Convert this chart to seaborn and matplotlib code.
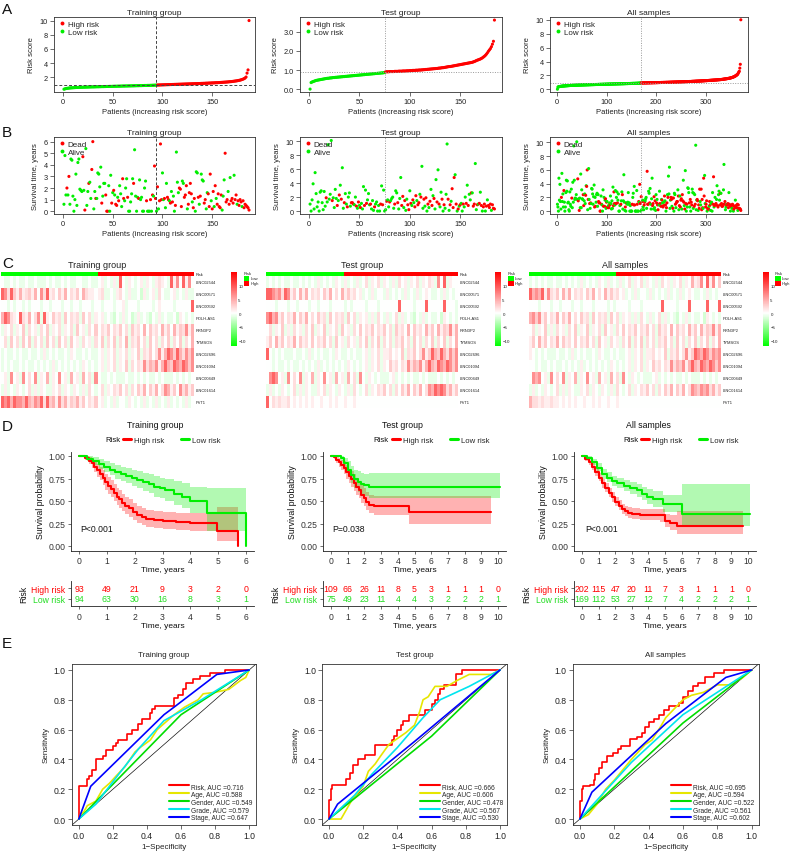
import numpy as np
import pandas as pd
import matplotlib
matplotlib.use("Agg")
import matplotlib.pyplot as plt
import seaborn as sns
from matplotlib.colors import LinearSegmentedColormap, ListedColormap
from matplotlib.lines import Line2D
from matplotlib.patches import Rectangle

# ======================= DATA =======================
# Panel A: risk scores (x100), sorted ascending
TRAIN_RISK_LOW = """33 38 42 45 47 49 51 52 53 54 55 56 57 58 58 59 60 60 61 61
62 62 63 63 64 64 65 65 66 66 66 67 67 68 68 68 69 69 70 70 70 71 71 72 72 72 73 73 73 74
74 75 75 75 76 76 76 77 77 78 78 78 79 79 79 80 80 80 81 81 81 82 82 83 83 83 84 84 84 85
85 86 86 86 87 87 87 88 88 89 89 90 90 91"""
TRAIN_RISK_HIGH = """92 93 93 94 94 95 95 96 96 97 97 98 98 99 99 100 100 101 101 102
102 103 103 104 104 105 105 106 106 107 107 108 108 109 109 110 110 111 111 112
112 113 113 114 115 115 116 116 117 118 118 119 120 120 121 122 122 123 124 125
125 126 127 128 129 130 131 132 133 134 135 136 138 139 140 142 144 146 148 150
152 155 158 161 165 170 175 182 190 205 260 305 1000"""
TEST_RISK_LOW = """2 36 39 41 43 45 47 48 49 50 51 52 53 54 55 56 57 58 58 59
60 60 61 62 62 63 63 64 64 65 65 66 66 67 67 68 68 69 69 70
70 71 71 72 72 73 73 74 74 75 75 76 76 77 77 78 78 79 79 80
80 81 81 82 82 83 83 84 84 85 85 86 86 87 88"""
TEST_RISK_HIGH = """92 92 92 92 93 93 93 93 93 94 94 94 94 95 95 95 95 96 96 96
96 97 97 97 98 98 98 99 99 99 100 100 100 101 101 101 102 102 103 103
104 104 105 105 106 106 107 107 108 108 109 109 110 111 111 112 113 113 114 115
116 117 118 119 119 120 121 122 123 124 125 126 127 128 129 130 131 132 133 134
135 136 137 138 139 140 141 143 145 147 150 152 154 156 158 161 164 168 172 177
183 190 198 205 212 222 235 250 360"""
RISK_CUTOFF = 0.915

# Panel B: survival time (years) and status (D = dead, A = alive), same order as risk
TRAIN_TIME_LOW = """0.6 4.8 1.4 2.0 1.4 3.0 0.6 4.5 4.4 1.3 0.0 1.0 3.2 0.5 4.2 4.5 1.9 1.8 1.7 4.7
1.8 0.1 5.4 0.5 1.7 2.4 2.5 1.1 3.6 6.0 0.2 1.7 1.1 1.1 3.3 3.2 2.1 3.8 0.7 1.3
2.4 2.4 1.4 0.0 0.0 2.2 0.0 3.1 0.7 1.6 1.8 1.4 0.6 0.5 1.2 0.9 2.2 1.5 0.4 2.8
1.1 0.9 2.0 2.8 1.2 0.0 0.0 0.8 1.5 2.8 2.4 5.3 1.3 0.0 1.2 1.1 2.7 1.0 1.2 0.0
0.0 2.0 2.6 0.9 0.0 0.0 0.0 1.0 0.0 1.4 1.3 3.9 1.1 0.0"""
TRAIN_STAT_LOW = "AAADADAAAA AAAAAAAAAD ADAAADAADD AADAAAAADA AADDDAAADA DADDADAAAD DAAADAAAAA DAAAADAAAA AAADAAADAD ADDA"
TRAIN_TIME_HIGH = """2.1 0.2 0.9 5.8 1.0 3.3 1.0 1.1 0.3 2.4 1.2 1.0 0.9 0.7 1.7 0.8 1.3 0.0 0.5 5.1
2.5 1.6 2.0 1.9 0.4 2.6 2.4 1.2 1.4 2.2 0.2 0.6 1.6 2.4 1.5 0.8 0.3 1.1 0.0 3.4
3.3 1.2 0.6 1.3 3.2 2.7 2.6 0.7 1.0 0.2 1.6 1.5 0.4 3.2 0.9 0.2 1.7 0.4 2.2 1.1
0.6 1.5 0.4 0.3 1.4 0.1 1.3 2.7 5.0 0.8 1.0 1.7 0.6 2.9 0.9 1.1 0.7 3.1 1.0 1.4
0.6 0.9 0.5 1.0 0.8 0.4 0.9 0.3 0.6 0.5 0.4 0.3 0.1"""
TRAIN_STAT_HIGH = "DADDDAADAA DDADADAADA AADDDAADDD ADDDDADDAA ADADAAADDA ADDDADDADA DDDDDAAADD DADADDDADD ADDDDADDDD DDD"
TEST_TIME_LOW = """1.0 0.0 1.6 3.9 0.3 5.5 2.5 0.6 1.3 0.0 2.7 2.9 1.2 0.2 2.8 0.7 1.9 1.3 9.5 1.7
2.4 10.1 1.5 1.9 0.5 3.1 1.8 0.8 1.5 2.3 3.7 1.7 6.2 0.4 1.2 2.5 1.0 0.6 2.0 2.6
0.7 1.2 1.2 1.0 0.9 2.0 0.7 0.4 1.3 0.8 0.5 1.1 0.3 3.5 0.8 3.0 1.1 1.6 2.5 0.9
1.0 0.3 1.5 0.1 0.6 1.0 1.3 0.0 0.8 0.0 1.0 3.6 0.9 3.0 0.0"""
TEST_STAT_LOW = "AAAAAAAAAA AAAAAADAAA AADAAAADAD ADAADAADAA ADDDAADADA DAAADADAAA DAAADAAAAA DADAA"
TEST_TIME_HIGH = """0.2 1.4 1.6 0.6 1.3 1.5 1.8 2.0 0.4 1.0 2.9 2.6 1.2 0.3 1.8 4.8 0.8 2.1 0.5 1.5
0.1 1.7 0.9 0.2 2.9 1.1 0.8 1.6 1.2 0.6 2.2 1.5 0.9 1.2 2.4 2.0 6.4 0.4 1.7 0.7
1.9 0.0 1.0 0.5 1.4 3.1 0.8 2.2 1.8 0.3 4.5 1.3 5.9 1.0 0.6 2.7 1.7 0.0 0.9 0.4
2.4 9.6 1.7 0.1 0.9 1.4 3.2 0.5 4.8 5.2 1.0 0.0 0.3 0.7 0.9 1.1 0.0 1.0 0.6 2.0
1.1 3.7 0.8 2.4 1.6 2.6 2.6 0.7 1.0 6.8 0.2 0.9 1.0 1.1 2.7 0.8 0.0 0.6 1.0 0.0
0.7 1.6 0.8 0.5 1.0 0.1 0.9 0.4 0.3"""
TEST_STAT_HIGH = "ADAADAAAAD AADAAADDAD AADDADADAD DADDADAADA DADADADADA ADADAADADA AADADADDDA DADADAADAA DADAADADDA ADADADADDA DADDDADDD"

# Panel C: expression heatmaps (coarse columns, low-risk patients on the left)
GENES = ["LINC02544", "LINC00571", "LINC00592", "POLH-AS1", "RRN3P2", "TYMSOS",
         "LINC02696", "LINC01094", "LINC00449", "LINC01614", "PVT1"]
LEVELS = {'0': -3, '1': -2, '2': -1, '3': 0, '4': 1, '5': 2, '6': 3, '7': 4.5, '8': 6.5, '9': 9}
HEAT_TRAIN = [
    "32232322 32232223 23223232 23322322 34232429 32432342 43245432 94839483",
    "98596474 56473859 45364735 46375443 45223245 32422314 23425322 34232422",
    "33232332 32333233 23332332 33233323 32333233 42333233 33234333 32333339",
    "79854395 47358294 36452635 45263524 34232132 42312423 21324232 23143232",
    "24352436 25342536 24352435 26342536 35463546 35264537 36453746 37465847",
    "35263526 36253526 35263526 34253425 36253625 37254635 26352536 25362537",
    "23223232 23223242 32322324 32232322 34243524 35243625 46358479 86975868",
    "23232232 32232323 24232323 23243232 34243524 36253548 57684797 69879868",
    "34283428 35382437 24383427 34273528 32232322 23223232 32232322 23232323",
    "24232432 35242432 24352432 43242532 35243546 35253647 36473587 46385746",
    "98979887 97687959 67485746 57463546 34232423 32432324 23242324 23232423",
]
HEAT_TEST = [
    "23232322 32232323 24232324 32423242 35243524 32425342 43524354 28392433",
    "99878598 46374735 45364735 37464534 23242332 42323242 32423432 23242323",
    "33323332 33233323 32333233 33232333 32333233 33339333 32333933 33393332",
    "89784635 47364735 36452635 45263524 34242532 42352423 21324232 23143232",
    "35243624 25342536 24362435 26342536 35463546 35264537 36453746 37465847",
    "46374635 47364536 35463526 34253425 36253625 35254635 26352536 25362537",
    "93232322 23223242 32322324 32232322 34243524 45343625 46358469 76975868",
    "33232232 32232323 24232323 23243232 34243524 36453548 57684797 69879868",
    "38983428 35382437 24383427 34273528 32432322 23423232 32232322 23232323",
    "24232432 35242432 24352432 43242532 35243546 35253647 36473587 98985746",
    "93545445 34343434 33433434 33433433 33333333 33333333 33333333 33333333",
]
HEAT_ALL = [
    "23232322 32232323 24232324 32423242 35243524 32425342 43524374 58394836",
    "97879485 46374735 45364735 37464534 23242332 42323242 32423432 23242323",
    "33323332 33233323 32333233 33232333 32333233 33339333 32333933 33393339",
    "78684635 47364735 36452635 45263524 34242532 42352423 21324232 23143232",
    "35243624 25342536 24362435 26342536 35463546 35264537 36453746 37465847",
    "46374635 47364536 35463526 34253425 36253625 35254635 26352536 25362537",
    "43232322 23223242 32322324 32232322 34243524 45343625 46358469 87986878",
    "33232232 32232323 24232323 23243232 34243524 36453548 57684797 69879868",
    "38783428 35382437 24383427 34273528 32432322 23423232 32232322 23232323",
    "24232432 35242432 24352432 43242532 35243546 35253647 36473587 68785746",
    "75545445 44343434 33433434 33433433 33333333 33333333 33333333 33333333",
]

# Panel D: Kaplan-Meier estimates (time, survival, lower CI, upper CI)
KM_TR_HI_T = [0, 0.2, 0.35, 0.45, 0.55, 0.65, 0.75, 0.85, 0.95, 1.05, 1.15, 1.25, 1.35, 1.45, 1.55, 1.65, 1.8, 1.95, 2.1, 2.25, 2.4, 2.7, 3.0, 3.2, 3.5, 4.0, 4.95, 5.7]
KM_TR_HI_S = [1.0, 0.98, 0.95, 0.92, 0.88, 0.84, 0.80, 0.76, 0.71, 0.67, 0.63, 0.59, 0.55, 0.52, 0.48, 0.45, 0.42, 0.38, 0.35, 0.32, 0.30, 0.29, 0.28, 0.28, 0.27, 0.26, 0.17, 0.0]
KM_TR_HI_L = [1.0, 0.96, 0.91, 0.87, 0.82, 0.77, 0.73, 0.68, 0.62, 0.58, 0.54, 0.50, 0.46, 0.42, 0.39, 0.36, 0.32, 0.29, 0.26, 0.23, 0.21, 0.20, 0.19, 0.19, 0.18, 0.17, 0.06, 0.0]
KM_TR_HI_U = [1.0, 1.0, 0.99, 0.97, 0.94, 0.91, 0.88, 0.85, 0.80, 0.77, 0.73, 0.69, 0.65, 0.62, 0.58, 0.55, 0.52, 0.48, 0.45, 0.42, 0.40, 0.39, 0.38, 0.38, 0.37, 0.37, 0.43, 0.43]
KM_TR_LO_T = [0, 0.3, 0.5, 0.7, 0.9, 1.1, 1.3, 1.5, 1.7, 1.9, 2.1, 2.3, 2.5, 2.7, 2.9, 3.1, 3.4, 3.7, 4.0, 4.6, 6.0]
KM_TR_LO_S = [1.0, 0.97, 0.94, 0.91, 0.88, 0.85, 0.82, 0.80, 0.78, 0.76, 0.73, 0.71, 0.69, 0.66, 0.64, 0.62, 0.58, 0.55, 0.50, 0.37, 0.0]
KM_TR_LO_L = [1.0, 0.94, 0.90, 0.86, 0.82, 0.79, 0.75, 0.72, 0.70, 0.67, 0.64, 0.61, 0.59, 0.55, 0.53, 0.50, 0.46, 0.42, 0.37, 0.17, 0.0]
KM_TR_LO_U = [1.0, 1.0, 0.99, 0.97, 0.95, 0.92, 0.90, 0.88, 0.87, 0.85, 0.83, 0.81, 0.80, 0.78, 0.76, 0.75, 0.72, 0.70, 0.66, 0.65, 0.65]

KM_TE_HI_T = [0, 0.15, 0.3, 0.45, 0.6, 0.75, 0.9, 1.05, 1.2, 1.35, 1.5, 1.65, 1.8, 1.95, 2.1, 2.3, 2.6, 4.7, 9.6]
KM_TE_HI_S = [1.0, 0.99, 0.96, 0.93, 0.90, 0.87, 0.82, 0.78, 0.74, 0.70, 0.66, 0.62, 0.57, 0.53, 0.49, 0.46, 0.44, 0.38, 0.38]
KM_TE_HI_L = [1.0, 0.97, 0.92, 0.88, 0.84, 0.80, 0.75, 0.70, 0.66, 0.61, 0.57, 0.53, 0.48, 0.44, 0.40, 0.37, 0.35, 0.25, 0.25]
KM_TE_HI_U = [1.0, 1.0, 1.0, 0.98, 0.96, 0.94, 0.90, 0.86, 0.83, 0.80, 0.76, 0.72, 0.68, 0.64, 0.60, 0.57, 0.56, 0.56, 0.56]
KM_TE_LO_T = [0, 0.3, 0.6, 0.8, 1.0, 1.2, 1.4, 1.6, 1.8, 2.0, 2.3, 10.1]
KM_TE_LO_S = [1.0, 1.0, 0.98, 0.92, 0.85, 0.79, 0.74, 0.71, 0.69, 0.68, 0.66, 0.66]
KM_TE_LO_L = [1.0, 1.0, 0.95, 0.86, 0.77, 0.70, 0.64, 0.60, 0.58, 0.56, 0.53, 0.53]
KM_TE_LO_U = [1.0, 1.0, 1.0, 0.98, 0.94, 0.89, 0.85, 0.83, 0.81, 0.80, 0.81, 0.81]

KM_AL_HI_T = [0, 0.2, 0.4, 0.6, 0.8, 1.0, 1.2, 1.4, 1.6, 1.8, 2.0, 2.2, 2.4, 2.6, 2.8, 3.0, 3.5, 4.0, 4.7, 5.0, 5.3, 5.7, 9.7]
KM_AL_HI_S = [1.0, 0.97, 0.93, 0.88, 0.82, 0.76, 0.70, 0.65, 0.59, 0.54, 0.49, 0.45, 0.41, 0.39, 0.37, 0.36, 0.35, 0.35, 0.34, 0.28, 0.26, 0.22, 0.22]
KM_AL_HI_L = [1.0, 0.95, 0.90, 0.84, 0.78, 0.72, 0.65, 0.60, 0.54, 0.49, 0.44, 0.40, 0.36, 0.33, 0.31, 0.30, 0.29, 0.29, 0.27, 0.21, 0.18, 0.13, 0.13]
KM_AL_HI_U = [1.0, 0.99, 0.96, 0.92, 0.87, 0.81, 0.75, 0.70, 0.65, 0.60, 0.55, 0.51, 0.47, 0.45, 0.43, 0.42, 0.41, 0.41, 0.41, 0.36, 0.35, 0.39, 0.39]
KM_AL_LO_T = [0, 0.3, 0.6, 0.9, 1.2, 1.5, 1.8, 2.1, 2.5, 2.9, 3.3, 3.6, 3.9, 4.3, 4.9, 6.0, 10.1]
KM_AL_LO_S = [1.0, 0.98, 0.93, 0.87, 0.80, 0.76, 0.72, 0.70, 0.67, 0.65, 0.62, 0.58, 0.55, 0.52, 0.47, 0.36, 0.36]
KM_AL_LO_L = [1.0, 0.96, 0.90, 0.83, 0.75, 0.71, 0.67, 0.64, 0.61, 0.58, 0.55, 0.51, 0.47, 0.43, 0.38, 0.22, 0.22]
KM_AL_LO_U = [1.0, 1.0, 0.97, 0.92, 0.86, 0.82, 0.78, 0.76, 0.73, 0.71, 0.69, 0.66, 0.63, 0.61, 0.57, 0.69, 0.69]

# Number at risk
NR_TR_HI = [93, 49, 21, 9, 3, 2, 0]
NR_TR_LO = [94, 63, 30, 16, 8, 3, 1]
NR_TE_HI = [109, 66, 26, 11, 8, 5, 3, 1, 1, 1, 0]
NR_TE_LO = [75, 49, 23, 11, 4, 4, 3, 2, 2, 2, 1]
NR_AL_HI = [202, 115, 47, 20, 11, 7, 3, 1, 1, 1, 0]
NR_AL_LO = [169, 112, 53, 27, 12, 7, 4, 2, 2, 2, 1]
P_VALUES = ["P<0.001", "P=0.038", "P<0.001"]

# Panel E: ROC curves as "fpr,tpr" points
ROC_TR_RISK = "0,0 0,.22 .05,.27 .06,.29 .08,.33 .10,.40 .14,.42 .16,.46 .20,.49 .22,.51 .23,.53 .28,.57 .31,.60 .35,.64 .37,.67 .42,.71 .43,.74 .45,.76 .56,.81 .58,.83 .61,.87 .63,.91 .67,.94 .71,.96 .77,.98 .86,1 1,1"
ROC_TR_AGE = "0,0 .01,.03 .03,.05 .05,.09 .10,.12 .14,.20 .18,.24 .22,.29 .27,.35 .30,.40 .33,.45 .36,.48 .42,.53 .46,.60 .50,.64 .56,.70 .62,.75 .70,.80 .73,.84 .80,.85 .88,.87 .95,.93 .98,.95 1,1"
ROC_TR_GENDER = "0,0 .60,.70 1,1"
ROC_TR_GRADE = "0,0 .10,.10 .22,.28 .35,.47 .50,.66 .72,.80 1,1"
ROC_TR_STAGE = "0,0 .07,.22 .50,.70 .57,.76 .81,.97 1,1"
ROC_TE_RISK = "0,0 0,.13 .01,.20 .02,.23 .10,.27 .12,.31 .14,.36 .17,.40 .21,.43 .27,.50 .37,.53 .38,.56 .40,.60 .42,.63 .43,.66 .47,.70 .56,.73 .60,.77 .62,.80 .64,.84 .65,.87 .67,.90 .74,.97 .78,1 1,1"
ROC_TE_AGE = "0,0 .07,0 .10,.06 .13,.12 .20,.22 .23,.32 .27,.37 .30,.42 .35,.50 .40,.54 .45,.58 .50,.63 .53,.72 .55,.80 .58,.82 .62,.89 .69,.89 .75,.93 .82,.97 .95,.97 1,1"
ROC_TE_GENDER = "0,0 .60,.556 1,1"
ROC_TE_GRADE = "0,0 .15,.16 .25,.30 .40,.48 .55,.68 .65,.80 .82,.89 1,1"
ROC_TE_STAGE = "0,0 .05,.10 .50,.52 1,1"
ROC_AL_RISK = "0,0 0,.12 .01,.20 .02,.22 .06,.23 .08,.26 .09,.30 .11,.34 .13,.38 .16,.42 .19,.44 .22,.47 .24,.49 .29,.54 .33,.55 .36,.58 .38,.62 .40,.65 .43,.67 .46,.70 .49,.73 .52,.76 .58,.78 .60,.82 .63,.86 .66,.89 .69,.91 .73,.95 .78,.98 .84,1 1,1"
ROC_AL_AGE = "0,0 .05,.03 .10,.10 .15,.20 .20,.26 .25,.33 .30,.40 .38,.50 .42,.53 .47,.62 .50,.68 .55,.74 .60,.80 .65,.83 .72,.85 .80,.90 .88,.90 .95,.95 1,1"
ROC_AL_GENDER = "0,0 .60,.644 1,1"
ROC_AL_GRADE = "0,0 .30,.38 .60,.70 1,1"
ROC_AL_STAGE = "0,0 .07,.18 .50,.64 .85,.95 1,1"
AUC_TR = [0.716, 0.588, 0.549, 0.579, 0.647]
AUC_TE = [0.666, 0.606, 0.478, 0.567, 0.530]
AUC_AL = [0.695, 0.594, 0.522, 0.561, 0.602]
ROC_VARS = ["Risk", "Age", "Gender", "Grade", "Stage"]

# ======================= STYLE =======================
sns.set_theme(style="ticks")
plt.rcParams['font.family'] = ['Liberation Sans', 'DejaVu Sans']
RED = '#FF0000'
GREEN = '#00EE00'
ROC_COLORS = ['#FF0000', '#E6E600', '#00DD00', '#00E5EE', '#0000FF']
TXT = '#222222'

W, H = 793, 854
fig = plt.figure(figsize=(W / 100, H / 100), dpi=100)


def px_ax(l, t, r, b):
    return fig.add_axes([l / W, 1 - b / H, (r - l) / W, (b - t) / H])


def ftext(x, y, s, **kw):
    return fig.text(x / W, 1 - y / H, s, **kw)


def nums(s):
    return np.array([float(v) for v in s.split()])


def flags(s):
    return np.array([c == 'D' for c in s.replace(' ', '')])


def pts(s):
    xy = np.array([[float(v) for v in p.split(',')] for p in s.split()])
    return xy[:, 0], xy[:, 1]


def make_group(rl, rh, tl, th, sl, sh):
    rl, rh = nums(rl) / 100, nums(rh) / 100
    df = pd.DataFrame({
        'risk': np.r_[rl, rh],
        'group': ['Low risk'] * len(rl) + ['High risk'] * len(rh),
        'time': np.r_[nums(tl), nums(th)],
        'dead': np.r_[flags(sl), flags(sh)],
    })
    return df


train = make_group(TRAIN_RISK_LOW, TRAIN_RISK_HIGH, TRAIN_TIME_LOW, TRAIN_TIME_HIGH, TRAIN_STAT_LOW, TRAIN_STAT_HIGH)
test = make_group(TEST_RISK_LOW, TEST_RISK_HIGH, TEST_TIME_LOW, TEST_TIME_HIGH, TEST_STAT_LOW, TEST_STAT_HIGH)
allset = pd.concat([train, test]).sort_values('risk', kind='mergesort').reset_index(drop=True)
for d in (train, test, allset):
    d['idx'] = np.arange(1, len(d) + 1)
    d['status'] = np.where(d['dead'], 'Dead', 'Alive')


def rstyle(ax, fs=5.3):
    for sp in ax.spines.values():
        sp.set_visible(True)
        sp.set_color('#333333')
        sp.set_linewidth(0.6)
    ax.tick_params(direction='out', length=3, width=0.5, colors='#333333',
                   labelcolor=TXT, labelsize=fs, pad=1.5)


# ======================= PANELS A & B =======================
AB_X = [(54, 255), (300, 502), (550, 748)]
AB_XLIM = [(-9, 193), (-9, 191.5), (-14, 385.5)]
AB_XT = [[0, 50, 100, 150], [0, 50, 100, 150], [0, 100, 200, 300]]
A_YLIM = [(-0.06, 10.5), (-0.13, 3.76), (-0.38, 10.4)]
A_YT = [[2, 4, 6, 8, 10], [0, 1, 2, 3], [0, 2, 4, 6, 8, 10]]
A_YL = [None, ['0.0', '1.0', '2.0', '3.0'], None]
B_YLIM = [(-0.24, 6.4), (-0.42, 10.6), (-0.42, 10.8)]
B_YT = [list(range(7)), [0, 2, 4, 6, 8, 10], [0, 2, 4, 6, 8, 10]]
TITLES = ["Training group", "Test group", "All samples"]
LINESTY = [((0, (3, 2)), '#444444'), ((0, (1, 1.5)), '#999999'), ((0, (1, 1.5)), '#999999')]

for i, d in enumerate([train, test, allset]):
    l, r = AB_X[i]
    n_low = int((d['group'] == 'Low risk').sum())
    ls, lc = LINESTY[i]
    # ---- A
    ax = px_ax(l, 18, r, 93)
    sns.scatterplot(data=d, x='idx', y='risk', hue='group',
                    palette={'High risk': RED, 'Low risk': GREEN},
                    s=5, linewidth=0, ax=ax, legend=False)
    ax.axvline(n_low, ls=ls, color=lc, lw=0.7)
    ax.axhline(RISK_CUTOFF, ls=ls, color=lc, lw=0.7)
    ax.set_xlim(*AB_XLIM[i]); ax.set_ylim(*A_YLIM[i])
    ax.set_xticks(AB_XT[i]); ax.set_yticks(A_YT[i])
    if A_YL[i]:
        ax.set_yticklabels(A_YL[i])
    ax.set_xlabel('Patients (increasing risk score)', fontsize=5.5, color=TXT, labelpad=2)
    ax.set_ylabel('Risk score', fontsize=5.5, color=TXT, labelpad=3)
    rstyle(ax)
    ax.legend(handles=[Line2D([], [], ls='', marker='o', ms=2.8, color=RED, mec='none'),
                       Line2D([], [], ls='', marker='o', ms=2.8, color=GREEN, mec='none')],
              labels=['High risk', 'Low risk'], loc='upper left', frameon=False,
              fontsize=5.8, handletextpad=0.1, labelspacing=0.1, borderpad=0.3,
              handlelength=1.2, borderaxespad=0.1)
    ftext((l + r) / 2, 13.5, TITLES[i], ha='center', va='center', fontsize=6, color=TXT)
    # ---- B
    ax = px_ax(l, 138, r, 215)
    sns.scatterplot(data=d, x='idx', y='time', hue='status',
                    palette={'Dead': RED, 'Alive': GREEN},
                    s=5, linewidth=0, ax=ax, legend=False)
    ax.axvline(n_low, ls=ls, color=lc, lw=0.7)
    ax.set_xlim(*AB_XLIM[i]); ax.set_ylim(*B_YLIM[i])
    ax.set_xticks(AB_XT[i]); ax.set_yticks(B_YT[i])
    ax.set_xlabel('Patients (increasing risk score)', fontsize=5.5, color=TXT, labelpad=2)
    ax.set_ylabel('Survival time, years', fontsize=5.5, color=TXT, labelpad=3)
    rstyle(ax)
    ax.legend(handles=[Line2D([], [], ls='', marker='o', ms=2.8, color=RED, mec='none'),
                       Line2D([], [], ls='', marker='o', ms=2.8, color=GREEN, mec='none')],
              labels=['Dead', 'Alive'], loc='upper left', frameon=False,
              fontsize=5.8, handletextpad=0.1, labelspacing=0.1, borderpad=0.3,
              handlelength=1.2, borderaxespad=0.1)
    ftext((l + r) / 2, 134, TITLES[i], ha='center', va='center', fontsize=6, color=TXT)

# ======================= PANEL C =======================
HM_CMAP = LinearSegmentedColormap.from_list('gwr', [(0, '#00FF00'), (12 / 27, '#FFFFFF'), (1, '#FF0000')])
HM_X = [(1, 194), (266, 458), (529, 721)]
CB_X = [231, 495, 763]
LEG_X = [244, 508, 775]
for i, (rows, d) in enumerate(zip([HEAT_TRAIN, HEAT_TEST, HEAT_ALL], [train, test, allset])):
    l, r = HM_X[i]
    mat = np.array([[LEVELS[c] for c in row.replace(' ', '')] for row in rows], dtype=float)
    axh = px_ax(l, 277, r, 409)
    cax = px_ax(CB_X[i], 273, CB_X[i] + 6, 347)
    sns.heatmap(mat, cmap=HM_CMAP, vmin=-12, vmax=15, ax=axh, cbar_ax=cax,
                xticklabels=False, yticklabels=GENES,
                cbar_kws={'ticks': [-10, -5, 0, 5, 10]})
    axh.yaxis.tick_right()
    axh.tick_params(axis='y', length=0, labelsize=2.9, pad=1.5, labelrotation=0, labelcolor=TXT)
    cb = axh.collections[0].colorbar
    cb.outline.set_visible(False)
    cax.tick_params(length=0, labelsize=3.2, pad=1, labelcolor=TXT)
    # risk annotation bar
    axr = px_ax(l, 272.7, r, 277)
    grp = (d['group'] == 'High risk').astype(int).to_numpy()[None, :]
    sns.heatmap(grp, cmap=ListedColormap(['#00FF00', '#FF0000']), vmin=0, vmax=1, cbar=False,
                ax=axr, xticklabels=False, yticklabels=['Risk'])
    axr.yaxis.tick_right()
    axr.tick_params(axis='y', length=0, labelsize=2.9, pad=1.5, labelrotation=0, labelcolor=TXT)
    ftext((l + r) / 2, 266, TITLES[i], ha='center', va='center', fontsize=6.5, color=TXT)
    # risk legend
    lx = LEG_X[i]
    ftext(lx, 274.5, 'Risk', ha='left', va='center', fontsize=3.0, color=TXT)
    for k, (lab, col) in enumerate([('Low', '#00FF00'), ('High', '#FF0000')]):
        y0 = 276.5 + k * 5.5
        fig.add_artist(Rectangle((lx / W, 1 - (y0 + 5) / H), 5.5 / W, 5 / H,
                                 transform=fig.transFigure, color=col, lw=0))
        ftext(lx + 6.5, y0 + 2.5, lab, ha='left', va='center', fontsize=3.0, color=TXT)

# ======================= PANEL D =======================
KM = [
    dict(x=(70.7, 254.3), tmax=6, pval_x=0.04, title_x=155, risk_x=120, leg_x=123,
         curves=[(KM_TR_HI_T, KM_TR_HI_S, KM_TR_HI_L, KM_TR_HI_U, RED),
                 (KM_TR_LO_T, KM_TR_LO_S, KM_TR_LO_L, KM_TR_LO_U, GREEN)],
         nr=(NR_TR_HI, NR_TR_LO)),
    dict(x=(322.7, 506.3), tmax=10, pval_x=0.06, title_x=402, risk_x=389, leg_x=392,
         curves=[(KM_TE_HI_T, KM_TE_HI_S, KM_TE_HI_L, KM_TE_HI_U, RED),
                 (KM_TE_LO_T, KM_TE_LO_S, KM_TE_LO_L, KM_TE_LO_U, GREEN)],
         nr=(NR_TE_HI, NR_TE_LO)),
    dict(x=(573.7, 756.3), tmax=10, pval_x=0.18, title_x=648, risk_x=638, leg_x=641,
         curves=[(KM_AL_HI_T, KM_AL_HI_S, KM_AL_HI_L, KM_AL_HI_U, RED),
                 (KM_AL_LO_T, KM_AL_LO_S, KM_AL_LO_L, KM_AL_LO_U, GREEN)],
         nr=(NR_AL_HI, NR_AL_LO)),
]


def gg_style(ax, fs=6.2):
    for k in ('top', 'right'):
        ax.spines[k].set_visible(False)
    for k in ('left', 'bottom'):
        ax.spines[k].set_color('#222222')
        ax.spines[k].set_linewidth(0.6)
    ax.tick_params(direction='out', length=2.5, width=0.5, colors='#333333',
                   labelcolor='#333333', labelsize=fs, pad=1.5)


for i, spec in enumerate(KM):
    l, r = spec['x']
    tmax = spec['tmax']
    xl = (-0.05 * tmax, 1.05 * tmax)
    ax = px_ax(l, 452.5, r, 551.5)
    for (t, s, lo, hi, col) in spec['curves']:
        ax.fill_between(t, lo, hi, step='post', color=col, alpha=0.3, lw=0)
        sns.lineplot(x=t, y=s, drawstyle='steps-post', color=col, lw=1.5, ax=ax,
                     estimator=None, sort=False)
    ax.set_xlim(*xl); ax.set_ylim(-0.05, 1.05)
    ax.set_xticks(range(0, tmax + 1))
    ax.set_yticks([0, 0.25, 0.5, 0.75, 1.0])
    ax.set_yticklabels(['0.00', '0.25', '0.50', '0.75', '1.00'])
    ax.set_xlabel('Time, years', fontsize=6, color='#111111', labelpad=1)
    ax.set_ylabel('Survival probability', fontsize=6.3, color='#111111', labelpad=2)
    gg_style(ax)
    ax.text(spec['pval_x'], 0.2, P_VALUES[i], ha='left', va='center', fontsize=6.2, color='#111111')
    ftext(spec['title_x'], 426, TITLES[i], ha='center', va='center', fontsize=6.3, color='#111111')
    ftext(spec['risk_x'], 441, 'Risk', ha='right', va='center', fontsize=5.6, color='#111111')
    fig.legend(handles=[Line2D([], [], color=RED, lw=2.2), Line2D([], [], color=GREEN, lw=2.2)],
               labels=['High risk', 'Low risk'], ncol=2, loc='center left',
               bbox_to_anchor=(spec['leg_x'] / W, 1 - 441 / H), frameon=False,
               fontsize=5.6, handlelength=1.0, handletextpad=0.4, columnspacing=2.2,
               borderpad=0, borderaxespad=0)
    # risk table
    axt = px_ax(l, 582, r, 607)
    hi, lo = spec['nr']
    for tt, n in enumerate(hi):
        axt.text(tt, 1, str(n), color=RED, ha='center', va='center', fontsize=6.3)
    for tt, n in enumerate(lo):
        axt.text(tt, 0, str(n), color='#22DD22', ha='center', va='center', fontsize=6.3)
    axt.set_xlim(*xl); axt.set_ylim(-0.7, 1.7)
    axt.set_xticks(range(0, tmax + 1))
    axt.set_yticks([0, 1]); axt.set_yticklabels(['Low risk', 'High risk'])
    gg_style(axt)
    for lab, c in zip(axt.get_yticklabels(), ['#22DD22', RED]):
        lab.set_color(c)
    axt.set_xlabel('Time, years', fontsize=6, color='#111111', labelpad=1)
    axt.set_ylabel('Risk', fontsize=6.3, color='#111111', labelpad=2)

# ======================= PANEL E =======================
ROC_X = [(72, 256), (322.2, 506.8), (573, 758.5)]
ROC_SETS = [
    ([ROC_TR_RISK, ROC_TR_AGE, ROC_TR_GENDER, ROC_TR_GRADE, ROC_TR_STAGE], AUC_TR),
    ([ROC_TE_RISK, ROC_TE_AGE, ROC_TE_GENDER, ROC_TE_GRADE, ROC_TE_STAGE], AUC_TE),
    ([ROC_AL_RISK, ROC_AL_AGE, ROC_AL_GENDER, ROC_AL_GRADE, ROC_AL_STAGE], AUC_AL),
]
for i, (curves, aucs) in enumerate(ROC_SETS):
    l, r = ROC_X[i]
    ax = px_ax(l, 665, r, 826)
    ax.plot([-0.1, 1.1], [-0.1, 1.1], color='#111111', lw=0.5)
    for k, (c, auc) in enumerate(zip(curves, aucs)):
        x, y = pts(c)
        sns.lineplot(x=x, y=y, color=ROC_COLORS[k], lw=1.2, ax=ax, estimator=None, sort=False,
                     drawstyle='steps-post' if k == 0 else 'default',
                     label=f"{ROC_VARS[k]}, AUC ={auc:.3f}")
    ax.set_xlim(-0.04, 1.04); ax.set_ylim(-0.04, 1.04)
    ax.set_xticks(np.arange(0, 1.01, 0.2)); ax.set_yticks(np.arange(0, 1.01, 0.2))
    ax.set_xticklabels([f"{v:.1f}" for v in np.arange(0, 1.01, 0.2)])
    ax.set_yticklabels([f"{v:.1f}" for v in np.arange(0, 1.01, 0.2)])
    rstyle(ax, fs=6.2)
    ax.set_xlabel('1\u2212Specificity', fontsize=5.8, color=TXT, labelpad=2)
    ax.set_ylabel('Sensitivity', fontsize=5.8, color=TXT, labelpad=3)
    leg = ax.legend(loc='lower right', frameon=False, fontsize=4.8, handlelength=3.0,
                    labelspacing=0.12, borderaxespad=0.2, handletextpad=0.3)
    for ln in leg.get_lines():
        ln.set_linewidth(1.5)
    ftext((l + r) / 2, 656, TITLES[i], ha='center', va='center', fontsize=5.8, color=TXT)

# ======================= PANEL LETTERS =======================
for letter, y in [('A', 3), ('B', 126), ('C', 257), ('D', 420), ('E', 637)]:
    ftext(2, y, letter, ha='left', va='top', fontsize=11, color='#111111')

fig.savefig('out.png', dpi=100)
